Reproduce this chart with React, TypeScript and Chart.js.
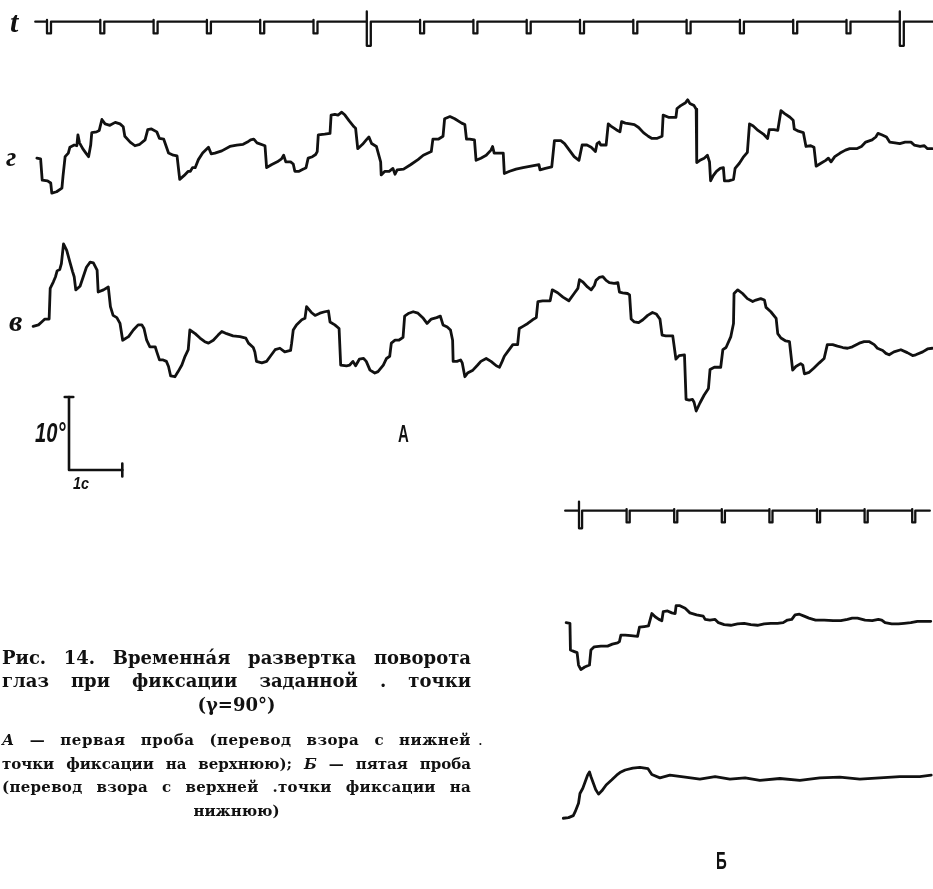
import React, { useEffect, useRef } from "react";
import { Chart, registerables } from "chart.js";

Chart.register(...registerables);

// ---------- DATA ----------
// Panel A: time in seconds from the first time mark, eye angle in degrees.
const traceG: [number, number][] = [
  [-0.19,-0.2],[-0.12,-0.3],[-0.09,-3.2],[0.01,-3.3],[0.07,-3.6],[0.09,-5.0],[0.18,-4.8],[0.28,-4.3],[0.30,-2.7],[0.34,0],
  [0.40,0.5],[0.43,1.3],[0.51,1.6],[0.56,1.5],[0.58,3.0],[0.61,1.9],[0.67,1.1],[0.73,0.5],[0.78,0],[0.82,1.6],
  [0.84,3.3],[0.93,3.4],[0.98,3.6],[1.03,5.1],[1.09,4.5],[1.18,4.3],[1.28,4.7],[1.37,4.5],[1.43,4.1],[1.46,2.8],
  [1.56,2.0],[1.65,1.5],[1.74,1.7],[1.84,2.3],[1.89,3.7],[1.96,3.8],[2.06,3.4],[2.11,2.5],[2.19,2.4],[2.28,0.5],
  [2.37,0.2],[2.44,0.1],[2.49,-3.1],[2.57,-2.6],[2.65,-2.0],[2.69,-2.0],[2.73,-1.5],[2.78,-1.5],[2.84,-0.4],[2.92,0.5],
  [3.03,1.3],[3.08,0.4],[3.15,0.5],[3.28,0.8],[3.43,1.4],[3.56,1.6],[3.68,1.7],[3.76,2.0],[3.82,2.3],[3.88,2.4],
  [3.94,1.9],[4.09,1.5],[4.12,-1.5],[4.21,-1.1],[4.32,-0.7],[4.40,-0.3],[4.44,0.2],[4.48,-0.7],[4.57,-0.7],[4.62,-1.0],
  [4.65,-2.0],[4.73,-2.0],[4.81,-1.7],[4.86,-1.5],[4.90,-0.2],[4.98,0],[5.04,0.3],[5.07,0.7],[5.09,3.0],[5.21,3.1],
  [5.31,3.2],[5.33,5.7],[5.40,5.8],[5.46,5.7],[5.53,6.1],[5.59,5.7],[5.67,4.9],[5.76,4.1],[5.79,3.9],[5.83,1.1],
  [5.92,1.7],[5.99,2.3],[6.04,2.7],[6.09,1.8],[6.18,1.4],[6.26,-0.7],[6.27,-2.5],[6.34,-2.0],[6.42,-2.0],[6.49,-1.6],
  [6.53,-2.4],[6.57,-1.8],[6.69,-1.7],[6.82,-1.1],[6.96,-0.4],[7.06,0.2],[7.15,0.5],[7.21,0.7],[7.24,2.4],[7.34,2.4],
  [7.43,2.8],[7.46,5.2],[7.56,5.5],[7.65,5.2],[7.78,4.6],[7.84,4.4],[7.87,2.4],[7.93,2.4],[8.02,2.3],[8.05,-0.5],
  [8.14,-0.2],[8.24,0.2],[8.33,0.9],[8.36,1.4],[8.39,0.5],[8.49,0.5],[8.56,0.5],[8.58,-2.3],[8.68,-2.0],[8.80,-1.7],
  [8.93,-1.5],[9.08,-1.3],[9.23,-1.1],[9.25,-1.8],[9.35,-1.6],[9.47,-1.4],[9.52,2.2],[9.64,2.2],[9.71,1.8],[9.80,0.9],
  [9.89,0],[9.98,-0.5],[10.04,1.6],[10.13,1.6],[10.21,1.3],[10.29,0.7],[10.32,1.8],[10.36,2.0],[10.39,1.6],[10.49,1.6],
  [10.53,4.5],[10.58,4.2],[10.68,3.7],[10.75,3.4],[10.78,4.8],[10.85,4.6],[10.94,4.5],[11.02,4.4],[11.10,4.0],[11.19,3.3],
  [11.28,2.8],[11.35,2.5],[11.44,2.5],[11.54,2.8],[11.56,5.7],[11.66,5.4],[11.80,5.4],[11.82,6.6],[11.89,7.0],[11.98,7.4],
  [12.02,7.8],[12.06,7.3],[12.14,7.0],[12.18,6.5],[12.19,-0.8],[12.25,-0.5],[12.33,-0.2],[12.39,0.2],[12.43,-0.7],[12.45,-3.3],
  [12.50,-2.6],[12.56,-2.0],[12.63,-1.6],[12.69,-1.5],[12.71,-3.3],[12.79,-3.3],[12.88,-3.1],[12.91,-1.6],[12.99,-0.9],[13.06,-0.1],
  [13.14,0.6],[13.18,4.5],[13.25,4.2],[13.34,3.6],[13.44,3.1],[13.52,2.5],[13.55,3.7],[13.64,3.7],[13.71,3.6],[13.77,6.3],
  [13.84,5.9],[13.94,5.4],[14.00,5.0],[14.02,3.8],[14.10,3.5],[14.19,3.3],[14.24,1.4],[14.33,1.5],[14.39,1.3],[14.43,-1.3],
  [14.52,-0.9],[14.61,-0.5],[14.66,-0.2],[14.71,-0.7],[14.78,0],[14.88,0.5],[14.98,0.9],[15.06,1.1],[15.19,1.1],[15.28,1.4],
  [15.36,2.0],[15.48,2.3],[15.55,2.7],[15.59,3.2],[15.66,3.0],[15.75,2.7],[15.81,2.0],[15.91,1.9],[16.00,1.8],[16.10,2.0],
  [16.21,2.0],[16.27,1.6],[16.38,1.4],[16.46,1.5],[16.52,1.1],[16.61,1.1],
];

const traceV: [number, number][] = [
  [-0.26,0.5],[-0.16,0.7],[-0.10,1.1],[-0.04,1.5],[0.04,1.5],[0.06,5.7],[0.12,6.6],[0.16,7.3],[0.19,8.1],[0.24,8.3],
  [0.27,9.1],[0.31,11.8],[0.37,10.9],[0.43,9.3],[0.48,8.0],[0.51,7.3],[0.54,5.5],[0.62,6.0],[0.68,7.3],[0.74,8.6],
  [0.81,9.3],[0.87,9.2],[0.94,8.2],[0.96,5.2],[1.06,5.5],[1.15,5.9],[1.19,3.2],[1.24,2.0],[1.31,1.7],[1.37,0.9],
  [1.42,-1.4],[1.53,-0.9],[1.62,0],[1.71,0.7],[1.78,0.7],[1.82,0.2],[1.87,-1.4],[1.93,-2.3],[2.03,-2.3],[2.06,-3.0],
  [2.11,-4.1],[2.18,-4.1],[2.24,-4.3],[2.28,-5.0],[2.32,-6.3],[2.40,-6.4],[2.46,-5.7],[2.53,-4.8],[2.59,-3.6],[2.65,-2.7],
  [2.68,0],[2.78,-0.5],[2.87,-1.1],[2.96,-1.6],[3.03,-1.8],[3.12,-1.4],[3.21,-0.7],[3.28,-0.2],[3.37,-0.5],[3.49,-0.8],
  [3.62,-0.9],[3.73,-1.1],[3.78,-1.8],[3.87,-2.4],[3.90,-3.0],[3.93,-4.3],[4.03,-4.5],[4.12,-4.3],[4.19,-3.6],[4.28,-2.7],
  [4.37,-2.5],[4.46,-3.0],[4.57,-2.8],[4.59,-1.8],[4.62,0],[4.68,0.7],[4.78,1.4],[4.84,1.6],[4.87,3.2],[4.96,2.4],
  [5.03,2.0],[5.12,2.3],[5.21,2.5],[5.28,2.6],[5.31,1.1],[5.40,0.7],[5.48,0.2],[5.51,-4.8],[5.62,-4.9],[5.68,-4.8],
  [5.74,-4.3],[5.79,-4.9],[5.86,-4.0],[5.94,-3.9],[5.99,-4.3],[6.06,-5.5],[6.15,-5.9],[6.21,-5.7],[6.31,-4.8],[6.37,-3.9],
  [6.43,-3.6],[6.46,-1.8],[6.53,-1.4],[6.60,-1.4],[6.68,-1.0],[6.71,1.9],[6.79,2.3],[6.87,2.5],[6.96,2.3],[7.06,1.6],
  [7.13,0.9],[7.21,1.5],[7.31,1.7],[7.38,1.9],[7.43,0.7],[7.51,0.4],[7.57,0],[7.61,-1.4],[7.62,-4.3],[7.69,-4.3],
  [7.76,-4.1],[7.79,-4.5],[7.84,-6.4],[7.89,-5.9],[7.99,-5.5],[8.08,-4.8],[8.14,-4.3],[8.24,-3.9],[8.33,-4.3],[8.43,-4.9],
  [8.49,-5.1],[8.54,-4.3],[8.58,-3.6],[8.64,-3.0],[8.74,-2.0],[8.83,-2.0],[8.86,0.2],[8.93,0.5],[9.02,0.9],[9.11,1.4],
  [9.18,1.7],[9.21,3.9],[9.30,4.0],[9.44,4.0],[9.48,5.5],[9.58,5.1],[9.68,4.5],[9.79,4.0],[9.89,5.0],[9.96,5.7],
  [9.99,6.9],[10.05,6.6],[10.14,5.9],[10.21,5.5],[10.27,6.1],[10.30,6.8],[10.36,7.2],[10.43,7.3],[10.49,6.8],[10.55,6.5],
  [10.64,6.4],[10.71,6.5],[10.74,5.2],[10.80,5.1],[10.89,5.0],[10.93,4.8],[10.96,1.5],[11.02,1.1],[11.10,1.0],[11.18,1.4],
  [11.27,2.0],[11.36,2.4],[11.43,2.2],[11.50,1.5],[11.54,-0.7],[11.61,-0.8],[11.74,-0.8],[11.80,-4.0],[11.86,-3.5],[11.96,-3.4],
  [11.99,-9.5],[12.05,-9.6],[12.11,-9.5],[12.14,-9.9],[12.18,-11.1],[12.25,-10.0],[12.33,-8.9],[12.41,-8.0],[12.44,-5.4],[12.52,-5.1],
  [12.64,-5.1],[12.68,-2.7],[12.74,-2.4],[12.83,-0.9],[12.88,0.9],[12.89,5.0],[12.96,5.5],[13.05,5.0],[13.14,4.3],[13.24,3.9],
  [13.30,4.1],[13.39,4.3],[13.46,4.1],[13.49,3.1],[13.58,2.5],[13.68,1.6],[13.71,-0.5],[13.77,-1.1],[13.86,-1.5],[13.93,-1.6],
  [13.99,-5.5],[14.05,-5.0],[14.14,-4.6],[14.18,-4.8],[14.21,-6.0],[14.30,-5.8],[14.39,-5.2],[14.49,-4.5],[14.58,-3.9],[14.64,-2.0],
  [14.74,-2.0],[14.83,-2.2],[14.93,-2.4],[15.02,-2.5],[15.11,-2.3],[15.24,-1.8],[15.33,-1.6],[15.43,-1.6],[15.52,-2.0],[15.58,-2.5],
  [15.68,-2.8],[15.74,-3.2],[15.80,-3.4],[15.89,-3.0],[16.02,-2.7],[16.14,-3.1],[16.24,-3.5],[16.30,-3.4],[16.43,-3.0],[16.52,-2.6],
  [16.61,-2.5],
];

// Time marks of panel A (s); long marks every 10 s
const marksA = [0,1,2,3,4,5,6,7,8,9,10,11,12,13,14,15,16];
const majorMarksA = [6, 16];
const markLineA: [number, number] = [-0.22, 16.62];

// Calibration of panel A
const scaleBarDeg = 10;
const scaleBarSec = 1;

// Panel Б: time in seconds from its first time mark, angle in degrees
const traceBTop: [number, number][] = [
  [-0.27,0.1],[-0.19,0],[-0.18,-4.1],[-0.11,-4.3],[-0.04,-4.5],[-0.01,-6.4],[0.04,-7.1],[0.12,-6.7],[0.22,-6.4],[0.25,-4.1],
  [0.32,-3.6],[0.46,-3.5],[0.60,-3.5],[0.70,-3.2],[0.81,-3.0],[0.85,-2.8],[0.88,-1.8],[0.97,-1.8],[1.09,-1.9],[1.23,-2.0],
  [1.27,-0.6],[1.37,-0.5],[1.46,-0.4],[1.53,1.5],[1.60,1.0],[1.68,0.6],[1.74,0.4],[1.77,1.8],[1.86,1.9],[1.95,1.6],
  [2.02,1.5],[2.04,2.7],[2.12,2.7],[2.23,2.3],[2.33,1.6],[2.47,1.3],[2.61,1.1],[2.65,0.6],[2.75,0.5],[2.86,0.6],
  [2.93,0.1],[3.05,-0.2],[3.19,-0.3],[3.33,-0.1],[3.47,0],[3.61,-0.2],[3.75,-0.3],[3.89,-0.1],[4.03,0],[4.17,0],
  [4.29,0.1],[4.38,0.5],[4.47,0.6],[4.54,1.3],[4.63,1.4],[4.73,1.1],[4.83,0.8],[4.97,0.5],[5.15,0.5],[5.34,0.4],
  [5.50,0.4],[5.64,0.6],[5.74,0.8],[5.85,0.8],[6.01,0.5],[6.16,0.4],[6.29,0.6],[6.36,0.5],[6.43,0.1],[6.57,-0.1],
  [6.71,-0.1],[6.83,0],[6.97,0.1],[7.11,0.3],[7.25,0.3],[7.39,0.3],
];

const traceBBottom: [number, number][] = [
  [-0.33,-2.8],[-0.22,-2.7],[-0.12,-2.4],[-0.08,-1.8],[-0.01,-0.5],[0.02,1.0],[0.08,1.8],[0.13,2.8],[0.18,3.8],[0.22,4.3],
  [0.25,3.6],[0.30,2.6],[0.35,1.6],[0.41,0.9],[0.48,1.4],[0.57,2.3],[0.69,3.1],[0.79,3.8],[0.86,4.2],[0.97,4.6],
  [1.13,4.9],[1.28,5.0],[1.45,4.8],[1.53,3.9],[1.70,3.4],[1.91,3.8],[2.23,3.5],[2.54,3.2],[2.86,3.6],[3.17,3.2],
  [3.49,3.4],[3.80,3.0],[4.22,3.3],[4.64,3.0],[5.06,3.4],[5.48,3.5],[5.90,3.2],[6.32,3.4],[6.74,3.6],[7.16,3.6],
  [7.40,3.8],
];

const marksB = [0,1,2,3,4,5,6,7];
const majorMarksB = [0];
const markLineB: [number, number] = [-0.29, 7.37];

// ---------- LAYOUT (pixels of the 933x889 sheet) ----------
const W = 933;
const H = 889;
const A_X0 = 47;        // pixel column of t = 0 in panel A
const A_PX_S = 53.3;    // px per second
const A_PX_DEG = 7.3;   // px per degree
const B_X0 = 579;
const B_PX_S = 47.6;
const B_PX_DEG = 6.52;
const rowA = (py: number) => (H - py) / A_PX_DEG;
const rowB = (py: number) => (H - py) / B_PX_DEG;

type P = { x: number; y: number };
const pts = (tr: [number, number][], off: number): P[] => tr.map(([t, d]) => ({ x: t, y: d + off }));

function markerPts(range: [number, number], marks: number[], majors: number[], small: number, big: number, up: number, w: number, off: number): P[] {
  const p: P[] = [{ x: range[0], y: off }];
  for (const m of marks) {
    const major = majors.includes(m);
    const depth = major ? big : small;
    p.push({ x: m, y: off }, { x: m, y: off + (major ? up : 0.25) }, { x: m, y: off - depth }, { x: m + w, y: off - depth }, { x: m + w, y: off });
  }
  p.push({ x: range[1], y: off });
  return p;
}

const INK = "#111";

export default function App() {
  const ref = useRef<HTMLCanvasElement | null>(null);

  useEffect(() => {
    if (!ref.current) return;
    const ds = (data: P[], panel: "A" | "B", width = 2.8) => ({
      data,
      xAxisID: panel === "A" ? "xA" : "xB",
      yAxisID: panel === "A" ? "yA" : "yB",
      showLine: true,
      borderColor: INK,
      backgroundColor: INK,
      borderWidth: width,
      pointRadius: 0,
      fill: false,
      tension: 0,
      borderJoinStyle: "round" as const,
      borderCapStyle: "round" as const,
    });

    const barT = (69 - A_X0) / A_PX_S;
    const barY = rowA(470);

    const chart = new Chart(ref.current, {
      type: "scatter",
      data: {
        datasets: [
          ds(markerPts(markLineA, marksA, majorMarksA, 1.6, 3.3, 1.4, 0.075, rowA(21.7)), "A", 2.3),
          ds(pts(traceG, rowA(156.7)), "A"),
          ds(pts(traceV, rowA(330)), "A"),
          ds([{ x: barT, y: barY + scaleBarDeg }, { x: barT, y: barY }, { x: barT + scaleBarSec, y: barY }], "A", 2.6),
          ds([{ x: barT - 0.08, y: barY + scaleBarDeg }, { x: barT + 0.08, y: barY + scaleBarDeg }], "A", 2.6),
          ds([{ x: barT + scaleBarSec, y: barY + 0.9 }, { x: barT + scaleBarSec, y: barY - 0.9 }], "A", 2.6),
          ds(markerPts(markLineB, marksB, majorMarksB, 1.8, 2.7, 1.4, 0.065, rowB(510.7)), "B", 2.3),
          ds(pts(traceBTop, rowB(623.3)), "B"),
          ds(pts(traceBBottom, rowB(800)), "B"),
        ],
      },
      options: {
        animation: false,
        responsive: false,
        maintainAspectRatio: false,
        events: [],
        layout: { padding: 0 },
        plugins: { legend: { display: false }, tooltip: { enabled: false } },
        scales: {
          xA: { type: "linear", display: false, min: -A_X0 / A_PX_S, max: (W - A_X0) / A_PX_S },
          yA: { type: "linear", display: false, min: 0, max: H / A_PX_DEG },
          xB: { type: "linear", display: false, min: -B_X0 / B_PX_S, max: (W - B_X0) / B_PX_S },
          yB: { type: "linear", display: false, min: 0, max: H / B_PX_DEG },
        },
      },
    });
    return () => chart.destroy();
  }, []);

  const abs = (left: number, top: number, extra: React.CSSProperties = {}): React.CSSProperties => ({
    position: "absolute",
    left,
    top,
    lineHeight: 1,
    whiteSpace: "nowrap",
    color: INK,
    ...extra,
  });
  const serifI = '"Liberation Serif", "DejaVu Serif", serif';
  const sansN = '"Liberation Sans", "DejaVu Sans", sans-serif';
  const cap = '"DejaVu Serif", serif';
  const justify: React.CSSProperties = {
    position: "absolute",
    left: 2,
    width: 469,
    textAlign: "justify",
    textAlignLast: "justify" as any,
    lineHeight: 1,
    fontFamily: cap,
    fontWeight: 700,
    color: INK,
  };

  return (
    <div style={{ position: "relative", width: W, height: H, background: "#fff", overflow: "hidden" }}>
      <style>{`html,body{margin:0;padding:0;background:#fff;}`}</style>
      <canvas ref={ref} width={W} height={H} style={{ position: "absolute", left: 0, top: 0 }} />

      <div style={abs(10, 7, { fontFamily: serifI, fontStyle: "italic", fontWeight: 700, fontSize: 30 })}>t</div>
      <div style={abs(6, 143, { fontFamily: serifI, fontStyle: "italic", fontWeight: 700, fontSize: 28 })}>г</div>
      <div style={abs(9, 306, { fontFamily: serifI, fontStyle: "italic", fontWeight: 700, fontSize: 30 })}>в</div>

      <div style={abs(35, 419, { fontFamily: sansN, fontStyle: "italic", fontWeight: 700, fontSize: 28, transform: "scaleX(0.72)", transformOrigin: "left top" })}>10°</div>
      <div style={abs(73, 475, { fontFamily: sansN, fontStyle: "italic", fontWeight: 700, fontSize: 17, transform: "scaleX(0.85)", transformOrigin: "left top" })}>1с</div>
      <div style={abs(398, 423, { fontFamily: sansN, fontWeight: 700, fontSize: 23, transform: "scaleX(0.65)", transformOrigin: "left top" })}>А</div>
      <div style={abs(716, 850, { fontFamily: sansN, fontWeight: 700, fontSize: 23, transform: "scaleX(0.65)", transformOrigin: "left top" })}>Б</div>

      <div style={{ ...justify, top: 649, fontSize: 18 }}>Рис. 14. Временна́я развертка поворота</div>
      <div style={{ ...justify, top: 672, fontSize: 18 }}>глаз при фиксации заданной . точки</div>
      <div style={{ ...justify, top: 696, fontSize: 18, textAlign: "center", textAlignLast: "center" as any }}>(γ=90°)</div>
      <div style={{ ...justify, top: 733, fontSize: 15, letterSpacing: 0.5 }}><i>А</i> — первая проба (перевод взора с нижней</div>
      <div style={abs(478, 733, { fontFamily: cap, fontSize: 15 })}>.</div>
      <div style={{ ...justify, top: 757, fontSize: 15 }}>точки фиксации на верхнюю); <i>Б</i> — пятая проба</div>
      <div style={{ ...justify, top: 780, fontSize: 15, letterSpacing: 0.3 }}>(перевод взора с верхней .точки фиксации на</div>
      <div style={{ ...justify, top: 804, fontSize: 15, textAlign: "center", textAlignLast: "center" as any }}>нижнюю)</div>
    </div>
  );
}
